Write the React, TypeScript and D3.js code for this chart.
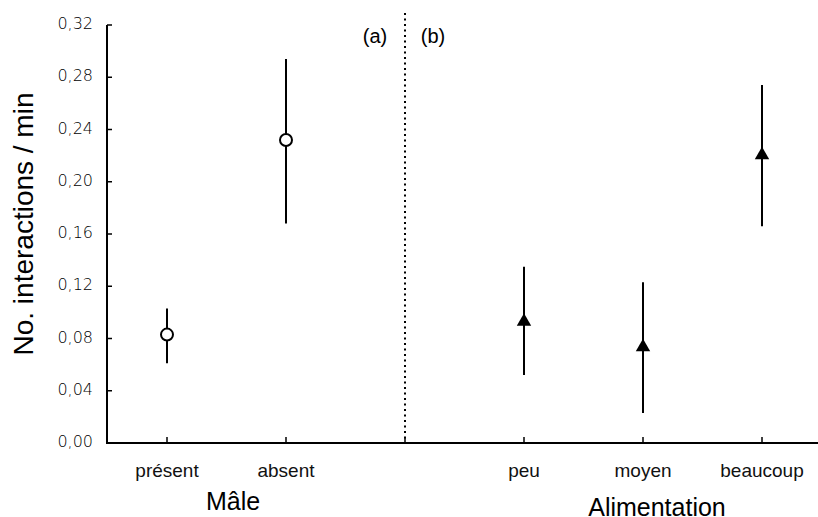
import { useRef, useEffect } from 'react';
import * as d3 from 'd3';

// Panel (a): Mâle
const maleCats = ['présent', 'absent'];
const maleMean = [0.083, 0.232];
const maleLow = [0.061, 0.168];
const maleHigh = [0.103, 0.294];

// Panel (b): Alimentation
const foodCats = ['peu', 'moyen', 'beaucoup'];
const foodMean = [0.093, 0.0735, 0.2205];
const foodLow = [0.052, 0.023, 0.166];
const foodHigh = [0.135, 0.123, 0.274];

const yTicks = [0, 0.04, 0.08, 0.12, 0.16, 0.2, 0.24, 0.28, 0.32];
const allSlots = ['présent', 'absent', '__sep', 'peu', 'moyen', 'beaucoup', '__end'];

export default function App() {
  const svgRef = useRef<SVGSVGElement>(null);

  useEffect(() => {
    if (!svgRef.current) return;
    const width = 818;
    const height = 517;
    const svg = d3.select(svgRef.current);
    svg.selectAll('*').remove();
    svg.append('rect').attr('width', width).attr('height', height).attr('fill', 'white');

    const left = 107;
    const x = d3.scalePoint<string>().domain(allSlots).range([167, 167 + 119 * 6]);
    const y = d3.scaleLinear().domain([0, 0.32]).range([443, 25]);

    const labelFont = 'Liberation Sans, Arial, sans-serif';
    const tickFont = 'DejaVu Sans, sans-serif';

    // Y axis
    svg.append('line')
      .attr('x1', left).attr('x2', left).attr('y1', y(0.32)).attr('y2', y(0))
      .attr('stroke', '#000').attr('stroke-width', 2);
    svg.append('g').selectAll('line').data(yTicks).join('line')
      .attr('x1', left).attr('x2', left + 5)
      .attr('y1', d => y(d)).attr('y2', d => y(d))
      .attr('stroke', '#000').attr('stroke-width', 1.5);
    svg.append('g').selectAll('text').data(yTicks).join('text')
      .attr('x', left - 14).attr('y', d => y(d) + 4)
      .attr('text-anchor', 'end')
      .attr('font-family', tickFont).attr('font-weight', 300).attr('font-size', 16)
      .attr('fill', '#000')
      .text(d => d3.format('.2f')(d).replace('.', ','));

    // X axis
    svg.append('line')
      .attr('x1', left - 1).attr('x2', width).attr('y1', y(0)).attr('y2', y(0))
      .attr('stroke', '#000').attr('stroke-width', 2);
    const tickCats = [...maleCats, '__sep', ...foodCats];
    svg.append('g').selectAll('line').data(tickCats).join('line')
      .attr('x1', d => x(d)!).attr('x2', d => x(d)!)
      .attr('y1', y(0)).attr('y2', y(0) - 6)
      .attr('stroke', '#000').attr('stroke-width', 1.5);
    svg.append('g').selectAll('text').data([...maleCats, ...foodCats]).join('text')
      .attr('x', d => x(d)!).attr('y', 477)
      .attr('text-anchor', 'middle')
      .attr('font-family', labelFont).attr('font-size', 19).attr('fill', '#111')
      .text(d => d);

    // Separator
    svg.append('line')
      .attr('x1', x('__sep')!).attr('x2', x('__sep')!)
      .attr('y1', 13).attr('y2', y(0))
      .attr('stroke', '#000').attr('stroke-width', 2)
      .attr('stroke-dasharray', '2,3.5');
    svg.append('text').attr('x', 375).attr('y', 43).attr('text-anchor', 'middle')
      .attr('font-family', labelFont).attr('font-size', 20).text('(a)');
    svg.append('text').attr('x', 433).attr('y', 43).attr('text-anchor', 'middle')
      .attr('font-family', labelFont).attr('font-size', 20).text('(b)');

    // Axis titles
    svg.append('text').attr('x', 233).attr('y', 510)
      .attr('text-anchor', 'middle').attr('font-family', labelFont).attr('font-size', 25)
      .text('Mâle');
    svg.append('text').attr('x', 657).attr('y', 516)
      .attr('text-anchor', 'middle').attr('font-family', labelFont).attr('font-size', 25)
      .text('Alimentation');
    svg.append('text')
      .attr('transform', `translate(33,224) rotate(-90)`)
      .attr('text-anchor', 'middle').attr('font-family', labelFont).attr('font-size', 28)
      .text('No. interactions / min');

    // Error bars
    const eb = (cats: string[], lo: number[], hi: number[]) => {
      svg.append('g').selectAll('line').data(cats).join('line')
        .attr('x1', d => x(d)!).attr('x2', d => x(d)!)
        .attr('y1', (_, i) => y(lo[i])).attr('y2', (_, i) => y(hi[i]))
        .attr('stroke', '#000').attr('stroke-width', 2);
    };
    eb(maleCats, maleLow, maleHigh);
    eb(foodCats, foodLow, foodHigh);

    // Markers
    svg.append('g').selectAll('circle').data(maleCats).join('circle')
      .attr('cx', d => x(d)!).attr('cy', (_, i) => y(maleMean[i]))
      .attr('r', 6).attr('fill', 'white').attr('stroke', '#000').attr('stroke-width', 2);
    const tri = d3.symbol().type(d3.symbolTriangle).size(90);
    svg.append('g').selectAll('path').data(foodCats).join('path')
      .attr('d', tri)
      .attr('transform', (d, i) => `translate(${x(d)},${y(foodMean[i])})`)
      .attr('fill', '#000');
  }, []);

  return (
    <svg ref={svgRef} width={818} height={517}
      style={{ position: 'absolute', left: 0, top: 0, display: 'block' }} />
  );
}
